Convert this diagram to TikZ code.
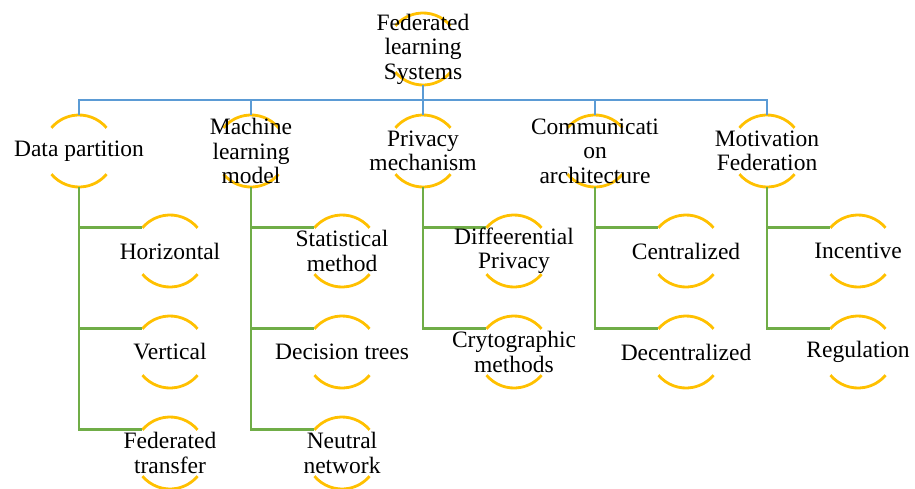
\documentclass[tikz,border=0pt]{standalone}
\usepackage{fontspec}
\setmainfont{Liberation Serif}
\usetikzlibrary{positioning}
\definecolor{ringgold}{RGB}{255,192,0}
\definecolor{linkblue}{RGB}{91,155,213}
\definecolor{linkgreen}{RGB}{112,173,71}

\begin{document}
\begin{tikzpicture}[on grid,
    ring node/.style={circle,minimum size=72pt,inner sep=0pt,outer sep=0pt},
    ring arc/.style={draw=ringgold,line width=2.8pt},
    text node/.style={align=center,inner sep=0pt,font=\fontsize{23.5}{24.5}\selectfont},
    top link/.style={draw=linkblue,line width=2.8pt},
    sub link/.style={draw=linkgreen,line width=2.8pt}]

    \useasboundingbox (0,0) rectangle (915pt,-488pt);

    \node[ring node] (fls) at (423pt,-49pt) {};

    % First level
    \node[ring node] (pm) [below=102pt of fls] {};
    \node[ring node] (mlm) [left=172pt of pm] {};
    \node[ring node] (dp) [left=172pt of mlm] {};
    \node[ring node] (ca) [right=172pt of pm] {};
    \node[ring node] (mf) [right=172pt of ca] {};

    % Data partition and below
    \node[ring node] (hor) [below right=100pt and 91pt of dp] {};
    \node[ring node] (ver) [below=101pt of hor] {};
    \node[ring node] (fed) [below=101pt of ver] {};

    % Machine learning model and below
    \node[ring node] (stat) [below right=100pt and 91pt of mlm] {};
    \node[ring node] (dec) [below=101pt of stat] {};
    \node[ring node] (neu) [below=101pt of dec] {};

    % Privacy mechanism and below
    \node[ring node] (dif) [below right=100pt and 91pt of pm] {};
    \node[ring node] (cry) [below=101pt of dif] {};

    % Communication architecture and below
    \node[ring node] (cen) [below right=100pt and 91pt of ca] {};
    \node[ring node] (dcen) [below=101pt of cen] {};

    % Motivation Federation and below
    \node[ring node] (inc) [below right=100pt and 91pt of mf] {};
    \node[ring node] (reg) [below=101pt of inc] {};

    \foreach \n in {fls,dp,mlm,pm,ca,mf,hor,ver,fed,stat,dec,neu,dif,cry,cen,dcen,inc,reg}
      \draw[ring arc] (\n.40) arc[start angle=40,end angle=140,radius=36pt]
                      (\n.220) arc[start angle=220,end angle=320,radius=36pt];

    % Connections
    \foreach \n in {dp,mlm,pm,ca,mf}
      \draw[top link] (fls.south) -- ++(0,-15pt) -| (\n.north);
    \foreach \a/\b in {dp/hor,dp/ver,dp/fed,mlm/stat,mlm/dec,mlm/neu,
                       pm/dif,pm/cry,ca/cen,ca/dcen,mf/inc,mf/reg}
      \draw[sub link] (\a.south) |- (\b.140);

    % Labels
    \node[text node] (fls-t) at (fls) {Federated\\learning\\Systems};
    \node[text node] (dp-t) at (dp) {Data partition};
    \node[text node] (mlm-t) at (mlm) {Machine\\learning\\model};
    \node[text node] (pm-t) at (pm) {Privacy\\mechanism};
    \node[text node] (ca-t) at (ca) {Communicati\\on\\architecture};
    \node[text node] (mf-t) at (mf) {Motivation\\Federation};
    \node[text node] (hor-t) at (hor) {Horizontal};
    \node[text node] (ver-t) at (ver) {Vertical};
    \node[text node] (fed-t) at (fed) {Federated\\transfer};
    \node[text node] (stat-t) at (stat) {Statistical\\method};
    \node[text node] (dec-t) at (dec) {Decision trees};
    \node[text node] (neu-t) at (neu) {Neutral\\network};
    \node[text node] (dif-t) at (dif) {Diffeerential\\Privacy};
    \node[text node] (cry-t) at (cry) {Crytographic\\methods};
    \node[text node] (cen-t) at (cen) {Centralized};
    \node[text node] (dcen-t) at (dcen) {Decentralized};
    \node[text node] (inc-t) at (inc) {Incentive};
    \node[text node] (reg-t) at (reg) {Regulation};
\end{tikzpicture}
\end{document}
